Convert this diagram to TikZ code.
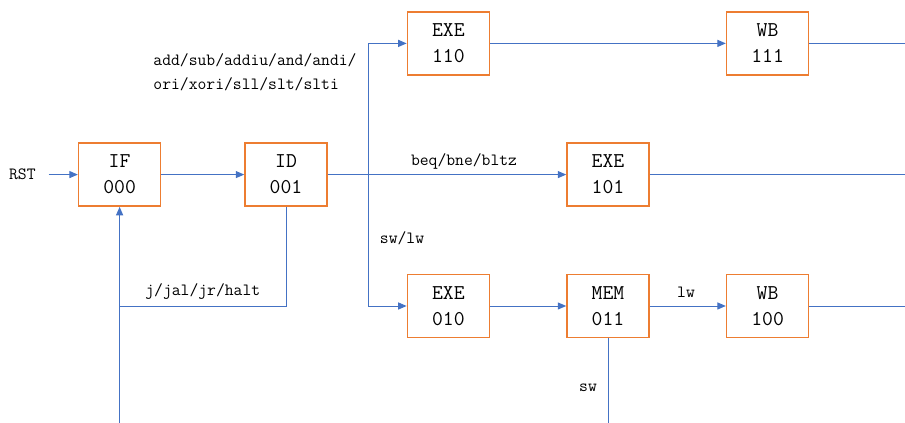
\documentclass[tikz,border=0pt]{standalone}
\usepackage{xcolor}
\definecolor{stageorange}{RGB}{237,125,49}
\definecolor{wireblue}{RGB}{68,114,196}
\usetikzlibrary{arrows.meta,positioning}

\begin{document}
\begin{tikzpicture}[
  stage/.style={draw=stageorange, line width=1.1pt, fill=white, minimum width=2.05cm, minimum height=1.575cm, align=center, font=\ttfamily\fontsize{15}{18.5}\selectfont},
  wire/.style={draw=wireblue, line width=0.7pt},
  flow/.style={wire, -{Triangle[length=6pt,width=5pt]}},
  lbl/.style={font=\ttfamily\fontsize{12.2}{17}\selectfont, align=left, inner sep=1pt}
]
  \useasboundingbox (0,0) rectangle (22.625,10.575);
  % Edges of the sheet
  \coordinate (rim) at (22.625,0);
  \coordinate (base) at (0,0);
  % Stages
  \node[stage] (if) at (2.99,6.21) {IF\\000};
  \node[stage] (id) at (7.15,6.21) {ID\\001};
  \node[stage] (exe110) at (11.21,9.49) {EXE\\110};
  \node[stage] (wb111) at (19.19,9.49) {WB\\111};
  \node[stage] (exe101) at (15.2,6.21) {EXE\\101};
  \node[stage] (exe010) at (11.21,2.925) {EXE\\010};
  \node[stage] (mem011) at (15.2,2.925) {MEM\\011};
  \node[stage] (wb100) at (19.19,2.925) {WB\\100};
  % Reset input
  \node[lbl] (rst) at (0.56,6.21) {RST};
  \draw[flow] ([xshift=8pt]rst.east) -- (if.west);
  \draw[flow] (if.east) -- (id.west);
  % Decode fan-out
  \coordinate (fork) at (9.21,6.21);
  \draw[flow] (id.east) -- (exe101.west);
  \draw[flow] (fork) |- (exe110.west);
  \draw[flow] (fork) |- (exe010.west);
  \draw[flow] (exe110.east) -- (wb111.west);
  \draw[flow] (exe010.east) -- (mem011.west);
  \draw[flow] (mem011.east) -- (wb100.west);
  % Outgoing lines
  \draw[wire] (wb111.east) -- (wb111.east -| rim);
  \draw[wire] (exe101.east) -- (exe101.east -| rim);
  \draw[wire] (wb100.east) -- (wb100.east -| rim);
  \draw[wire] (mem011.south) -- (mem011.south |- base);
  % Jump back to fetch
  \coordinate (back) at (2.99,2.925);
  \draw[wire] (id.south) |- (back);
  \draw[flow] (if.south |- base) -- (if.south);
  % Labels
  \node[lbl] (alu) at (6.375,8.775) {add/sub/addiu/and/andi/\\ori/xori/sll/slt/slti};
  \node[lbl] (br) at (11.6,6.55) {beq/bne/bltz};
  \node[lbl] (ldst) at (10.05,4.625) {sw/lw};
  \node[lbl] (lw) at (17.15,3.275) {lw};
  \node[lbl] (sw) at (14.7,0.875) {sw};
  \node[lbl] (jmp) at (5.07,3.275) {j/jal/jr/halt};
\end{tikzpicture}
\end{document}
